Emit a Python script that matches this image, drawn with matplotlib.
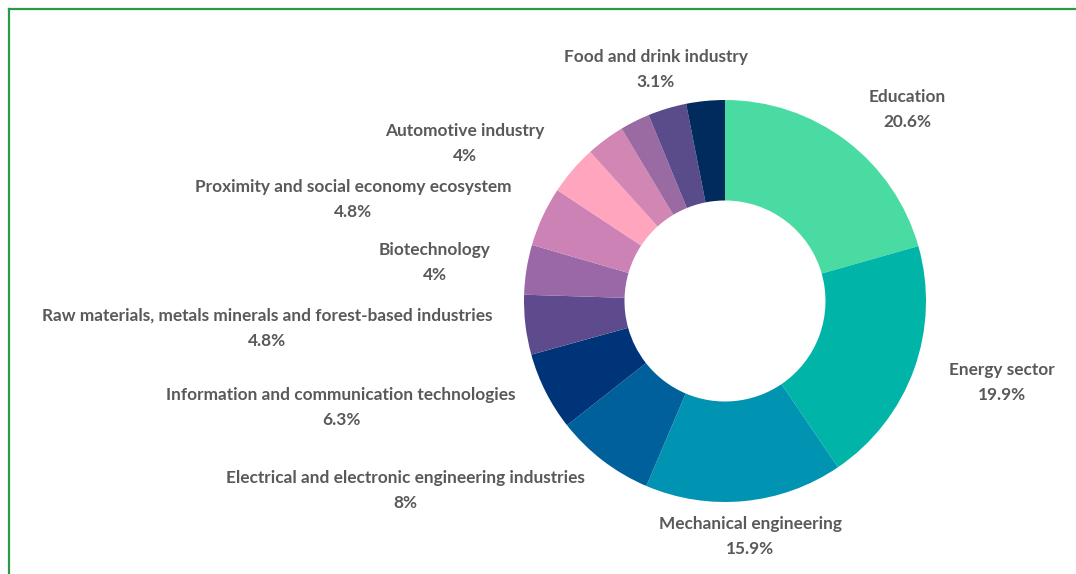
import matplotlib.pyplot as plt
from matplotlib.lines import Line2D

plt.rcParams['font.family'] = ['Lato', 'DejaVu Sans']

# 行业分布（顺时针，从12点开始）
sectors = [
    'Education',
    'Energy sector',
    'Mechanical engineering',
    'Electrical and electronic engineering industries',
    'Information and communication technologies',
    'Raw materials, metals minerals and forest-based industries',
    'Biotechnology',
    'Proximity and social economy ecosystem',
    'Automotive industry',
    '',
    '',
    '',
    'Food and drink industry',
]
shares = [20.6, 19.9, 15.9, 8, 6.3, 4.8, 4, 4.8, 4, 3.1, 2.4, 3.1, 3.1]
colors = [
    '#4ADBA2', '#00B4A8', '#0093B2', '#00609C', '#003478', '#5E4B8D',
    '#9A68A6', '#CD82B5', '#FFA6BE', '#D186B4', '#9A6AA2', '#5A4C8A',
    '#002B5C',
]

# 标签中心位置（像素，原点在左上角）
label_pos = [
    (907, 97), (1002, 370), (750, 524), (405, 478), (341, 395),
    (267, 316), (435, 250), (353, 187), (465, 131),
    None, None, None, (656, 57),
]

W, H = 1076, 574
fig = plt.figure(figsize=(W / 100, H / 100), dpi=100)

# 甜甜圈图：中心 (725, 301)，半径 201 像素
cx, cy, r = 725, 301, 201
ax = fig.add_axes([(cx - r) / W, (H - cy - r) / H, 2 * r / W, 2 * r / H])
ax.pie(shares, colors=colors, startangle=90, counterclock=False,
       radius=1, wedgeprops=dict(width=0.5, linewidth=0))
ax.set_xlim(-1, 1)
ax.set_ylim(-1, 1)
ax.set_aspect('equal')
ax.axis('off')

grey = '#595959'
for name, val, pos in zip(sectors, shares, label_pos):
    if pos is None:
        continue
    x, y = pos
    fig.text(x / W, 1 - y / H, name, ha='center', va='center',
             fontsize=12.4, fontweight='bold', color=grey)
    fig.text(x / W, 1 - (y + 25) / H, f'{val:g}%', ha='center', va='center',
             fontsize=12.4, fontweight='bold', color=grey)

# 绿色边框（仅上边和左边）
green = '#2A9A48'
fig.add_artist(Line2D([8.5 / W, 1], [1 - 8.5 / H, 1 - 8.5 / H],
                      transform=fig.transFigure, color=green, linewidth=1.6))
fig.add_artist(Line2D([8.5 / W, 8.5 / W], [0, 1 - 8.5 / H],
                      transform=fig.transFigure, color=green, linewidth=1.6))

fig.savefig('out.png', dpi=100, facecolor='white')
